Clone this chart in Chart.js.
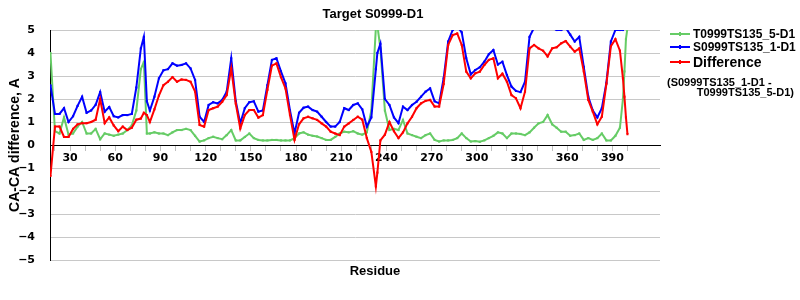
<!DOCTYPE html>
<html>
<head>
<meta charset="utf-8">
<title>Target S0999-D1</title>
<script src="https://cdn.jsdelivr.net/npm/chart.js@4.4.0/dist/chart.umd.min.js"></script>
<style>
  body { margin: 0; background: #fff; }
  #wrap { position: relative; width: 800px; height: 300px; font-family: "Liberation Sans", Arial, sans-serif; font-weight: bold; color: #000; }
  #wrap canvas { position: absolute; left: 0; top: 0; }
  .txt { position: absolute; white-space: nowrap; line-height: 1; transform: translateY(-50%); }
  .center { transform: translate(-50%, -50%); }
  .swatch { position: absolute; width: 20px; height: 2px; }
  .swatch i { position: absolute; left: 9px; top: -1px; width: 2px; height: 4px; background: inherit; }
</style>
</head>
<body>
<div id="wrap">
  <canvas id="chart" width="800" height="300"></canvas>
  <div class="txt center" style="left:373px; top:13px; font-size:13px;">Target S0999-D1</div>
  <div class="txt center" style="left:375px; top:270px; font-size:13px;">Residue</div>

  <div class="swatch" style="left:670px; top:33px; background:#66cc66;"><i></i></div>
  <div class="txt" style="left:693px; top:34px; font-size:12px;">T0999TS135_5-D1</div>
  <div class="swatch" style="left:670px; top:46px; background:#0000ff;"><i></i></div>
  <div class="txt" style="left:693px; top:47px; font-size:12px;">S0999TS135_1-D1</div>
  <div class="swatch" style="left:670px; top:61px; background:#ff0000;"><i></i></div>
  <div class="txt" style="left:693px; top:62px; font-size:14px;">Difference</div>
  <div class="txt" style="left:667px; top:82px; font-size:11px;">(S0999TS135_1-D1 -</div>
  <div class="txt" style="right:6px; top:92px; font-size:11px;">T0999TS135_5-D1)</div>
</div>
<script>
// residue numbers where values were read
const residues = [17, 20, 23, 26, 29, 32, 35, 38, 41, 44, 47, 50, 53, 56, 59, 62, 65, 68, 71, 74,
  77, 79, 81, 83, 86, 89, 92, 95, 98, 101, 104, 107, 110, 113, 116, 119, 122, 125, 128, 131,
  134, 137, 140, 143, 146, 149, 152, 155, 158, 161, 164, 167, 170, 173, 176, 179, 182, 185, 188, 191,
  194, 197, 200, 203, 206, 209, 212, 215, 218, 221, 224, 227, 230, 233, 234, 236, 239, 242, 245, 248,
  251, 254, 257, 260, 263, 266, 269, 272, 275, 278, 281, 284, 287, 290, 293, 296, 299, 302, 305, 308,
  311, 314, 317, 320, 323, 326, 329, 332, 335, 338, 341, 344, 347, 350, 353, 356, 359, 362, 365, 368,
  371, 374, 377, 380, 383, 386, 389, 392, 395, 397, 398, 399, 400];

// T0999TS135_5-D1
const modelT = [4.0, 0.6, 0.5, 1.2, 0.45, 0.5, 0.8, 1.0, 0.5, 0.5, 0.7, 0.25, 0.5, 0.45, 0.4, 0.45, 0.5, 0.65, 0.85, 1.5,
  3.3, 3.6, 0.5, 0.5, 0.55, 0.5, 0.5, 0.43, 0.55, 0.65, 0.65, 0.7, 0.65, 0.4, 0.15, 0.2, 0.3, 0.36, 0.3, 0.25,
  0.43, 0.65, 0.2, 0.2, 0.35, 0.5, 0.3, 0.22, 0.2, 0.2, 0.22, 0.22, 0.2, 0.2, 0.2, 0.3, 0.5, 0.55, 0.45, 0.4,
  0.37, 0.3, 0.22, 0.22, 0.35, 0.5, 0.58, 0.55, 0.6, 0.5, 0.45, 0.55, 1.5, 5.1, 5.2, 4.2, 1.5, 0.65, 0.7, 0.65,
  1.09, 0.5, 0.43, 0.36, 0.3, 0.43, 0.5, 0.22, 0.15, 0.2, 0.2, 0.22, 0.3, 0.5, 0.3, 0.15, 0.17, 0.14, 0.2, 0.3,
  0.4, 0.55, 0.5, 0.3, 0.5, 0.5, 0.48, 0.43, 0.55, 0.75, 0.94, 1.0, 1.3, 0.9, 0.75, 0.58, 0.58, 0.4, 0.43, 0.5,
  0.22, 0.3, 0.22, 0.3, 0.5, 0.2, 0.2, 0.4, 0.75, 2.0, 3.2, 4.6, 5.1];

// S0999TS135_1-D1
const modelS = [2.6, 1.35, 1.35, 1.6, 1.0, 1.25, 1.7, 2.1, 1.4, 1.5, 1.75, 2.3, 1.45, 1.65, 1.25, 1.2, 1.3, 1.3, 1.35, 2.5,
  4.2, 4.7, 1.9, 1.5, 2.1, 2.9, 3.25, 3.3, 3.55, 3.45, 3.48, 3.55, 3.33, 2.83, 1.23, 1.0, 1.74, 1.86, 1.81, 1.96,
  2.32, 3.77, 1.9, 0.94, 1.6, 1.86, 1.9, 1.45, 1.5, 2.6, 3.7, 3.77, 3.2, 2.68, 1.5, 0.5, 1.4, 1.62, 1.67, 1.52,
  1.45, 1.23, 1.0, 0.8, 0.8, 1.0, 1.6, 1.52, 1.74, 1.81, 1.55, 0.8, 1.2, 3.3, 4.0, 4.4, 2.0, 1.74, 1.2, 0.95,
  1.67, 1.52, 1.74, 1.88, 2.1, 2.32, 2.46, 1.9, 1.81, 2.9, 4.5, 5.0, 5.15, 4.9, 3.77, 3.07, 3.26, 3.38, 3.62, 3.95,
  4.13, 3.5, 3.62, 3.04, 2.54, 2.35, 2.3, 2.75, 4.7, 5.1, 5.14, 5.1, 5.1, 5.1, 5.0, 5.0, 5.1, 4.8, 4.5, 4.7,
  3.4, 2.1, 1.5, 1.2, 1.6, 2.7, 4.5, 5.0, 5.0, 5.0, 5.3, 5.8, 5.6];

// Difference (S0999TS135_1-D1 - T0999TS135_5-D1)
const difference = [-1.35, 0.8, 0.8, 0.35, 0.35, 0.7, 0.9, 0.95, 0.95, 1.0, 1.1, 2.0, 0.95, 1.2, 0.85, 0.6, 0.8, 0.65, 0.75, 1.1,
  1.15, 1.4, 1.3, 1.0, 1.55, 2.15, 2.6, 2.75, 2.95, 2.75, 2.85, 2.83, 2.75, 2.32, 0.87, 0.8, 1.52, 1.6, 1.67, 1.88,
  2.17, 3.33, 1.8, 0.72, 1.3, 1.52, 1.52, 1.19, 1.3, 2.4, 3.45, 3.55, 2.95, 2.46, 1.3, 0.22, 0.9, 1.16, 1.23, 1.16,
  1.09, 0.94, 0.8, 0.58, 0.5, 0.43, 0.8, 0.94, 1.09, 1.23, 1.1, 0.3, -0.3, -1.8, -1.2, 0.2, 0.45, 1.0, 0.6, 0.3,
  0.55, 0.94, 1.23, 1.6, 1.81, 1.92, 1.96, 1.67, 1.67, 2.65, 4.35, 4.78, 4.85, 4.35, 3.19, 2.9, 3.12, 3.19, 3.48, 3.7,
  3.77, 2.9, 3.1, 2.75, 2.17, 2.03, 1.6, 2.32, 4.2, 4.35, 4.2, 4.1, 3.85, 4.2, 4.25, 4.42, 4.52, 4.28, 4.06, 4.2,
  3.2, 1.96, 1.45, 0.9, 1.23, 2.65, 4.3, 4.6, 4.1, 2.9, 2.1, 1.2, 0.47];

const yTicks = [-5, -4, -3, -2, -1, 0, 1, 2, 3, 4, 5];
const xTicks = [20, 30, 40, 50, 60, 70, 80, 90, 100, 110, 120, 130, 140, 150, 160, 170, 180, 190, 200,
  210, 220, 230, 240, 250, 260, 270, 280, 290, 300, 310, 320, 330, 340, 350, 360, 370, 380, 390, 400];
const xLabels = [30, 60, 90, 120, 150, 180, 210, 240, 270, 300, 330, 360, 390];

const tickFont = { family: 'DejaVu Sans', size: 11, weight: 'bold' };

function toPoints(values) {
  return values.map((v, i) => ({ x: residues[i], y: v }));
}

function makeDataset(label, values, color, order) {
  return {
    label: label,
    data: toPoints(values),
    borderColor: color,
    backgroundColor: color,
    borderWidth: 2,
    pointRadius: 1.5,
    pointStyle: 'rect',
    pointBorderWidth: 0,
    pointBackgroundColor: color,
    tension: 0,
    order: order
  };
}

const config = {
  type: 'line',
  data: {
    datasets: [
      makeDataset('Difference', difference, '#ff0000', 0),
      makeDataset('S0999TS135_1-D1', modelS, '#0000ff', 1),
      makeDataset('T0999TS135_5-D1', modelT, '#66cc66', 2)
    ]
  },
  options: {
    responsive: false,
    animation: false,
    devicePixelRatio: 1,
    layout: { padding: { left: 0, right: 140, top: 30, bottom: 40 } },
    plugins: {
      legend: { display: false },
      title: { display: false },
      tooltip: { enabled: false }
    },
    scales: {
      x: {
        type: 'linear',
        min: 16.7,
        max: 421.6,
        position: { y: 0 },
        afterBuildTicks: (scale) => { scale.ticks = xTicks.map(v => ({ value: v })); },
        ticks: {
          autoSkip: false,
          maxRotation: 0,
          padding: 2,
          color: '#000',
          font: tickFont,
          callback: (v) => xLabels.includes(v) ? String(v) : ''
        },
        grid: { drawOnChartArea: false, drawTicks: true, tickLength: 5, color: '#c0c0c0' },
        border: { color: '#000', width: 1 }
      },
      y: {
        min: -5,
        max: 5,
        afterBuildTicks: (scale) => { scale.ticks = yTicks.map(v => ({ value: v })); },
        afterFit: (scale) => { scale.width = 50; },
        ticks: {
          padding: 15,
          color: '#000',
          font: tickFont,
          callback: (v) => v < 0 ? '\u2212' + Math.abs(v) : String(v)
        },
        grid: { color: '#c8c8c8', drawTicks: false },
        border: { color: '#000', width: 1 },
        title: {
          display: true,
          text: 'CA-CA difference, A',
          color: '#000',
          font: { family: 'Liberation Sans', size: 14, weight: 'bold' },
          padding: { top: 7, bottom: 0 }
        }
      }
    }
  }
};

new Chart(document.getElementById('chart'), config);
</script>
</body>
</html>
